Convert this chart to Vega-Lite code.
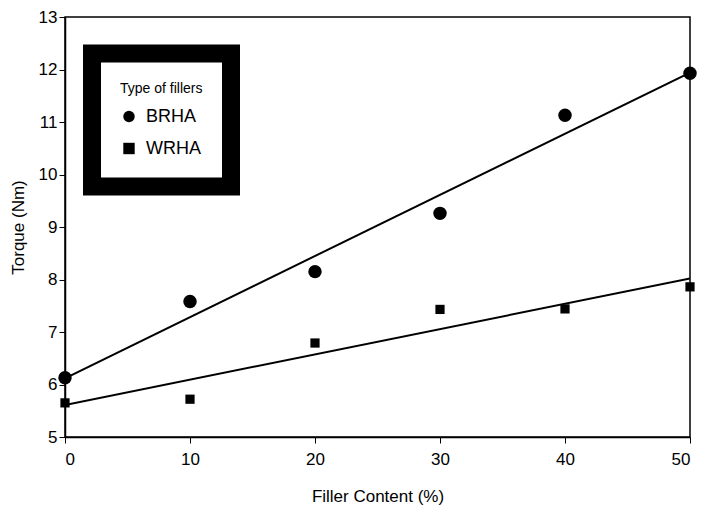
{
  "$schema": "https://vega.github.io/schema/vega-lite/v6.json",
  "width": 625,
  "height": 420,
  "autosize": {"type": "none"},
  "padding": {"left": 65, "top": 17, "right": 13, "bottom": 75},
  "background": "white",
  "config": {
    "font": "Liberation Sans",
    "view": {"stroke": "black", "strokeWidth": 1.5},
    "legend": {"strokeWidth": 18},
    "axis": {
      "domainColor": "black",
      "domainWidth": 1.5,
      "tickColor": "black",
      "tickWidth": 1,
      "grid": false,
      "labelColor": "black",
      "titleColor": "black",
      "labelFontSize": 17,
      "titleFontSize": 17,
      "titleFontWeight": "normal",
      "labelFont": "Liberation Sans",
      "titleFont": "Liberation Sans"
    }
  },
  "data": {
    "values": [
      {"filler": 0, "torque": 6.13, "type": "BRHA"},
      {"filler": 10, "torque": 7.58, "type": "BRHA"},
      {"filler": 20, "torque": 8.15, "type": "BRHA"},
      {"filler": 30, "torque": 9.26, "type": "BRHA"},
      {"filler": 40, "torque": 11.13, "type": "BRHA"},
      {"filler": 50, "torque": 11.93, "type": "BRHA"},
      {"filler": 0, "torque": 5.65, "type": "WRHA"},
      {"filler": 10, "torque": 5.72, "type": "WRHA"},
      {"filler": 20, "torque": 6.79, "type": "WRHA"},
      {"filler": 30, "torque": 7.43, "type": "WRHA"},
      {"filler": 40, "torque": 7.44, "type": "WRHA"},
      {"filler": 50, "torque": 7.86, "type": "WRHA"}
    ]
  },
  "encoding": {
    "x": {
      "field": "filler",
      "type": "quantitative",
      "scale": {"domain": [0, 50], "nice": false},
      "axis": {
        "title": "Filler Content (%)",
        "values": [0, 10, 20, 30, 40, 50],
        "tickSize": 6,
        "labelPadding": 8,
        "titlePadding": 21
      }
    },
    "y": {
      "field": "torque",
      "type": "quantitative",
      "scale": {"domain": [5, 13], "nice": false, "zero": false},
      "axis": {
        "title": "Torque (Nm)",
        "values": [5, 6, 7, 8, 9, 10, 11, 12, 13],
        "tickSize": 6,
        "labelPadding": 2,
        "titlePadding": 11
      }
    }
  },
  "layer": [
    {
      "transform": [
        {"regression": "torque", "on": "filler", "groupby": ["type"], "method": "linear", "extent": [0, 50]}
      ],
      "mark": {"type": "line", "color": "black", "strokeWidth": 2, "clip": true},
      "encoding": {
        "detail": {"field": "type"}
      }
    },
    {
      "mark": {"type": "point", "filled": true, "color": "black", "opacity": 1},
      "encoding": {
        "size": {"condition": {"test": "datum.type === 'BRHA'", "value": 180}, "value": 85},
        "shape": {"field": "type", "type": "nominal", "scale": {"domain": ["BRHA", "WRHA"], "range": ["circle", "square"]},
          "legend": {
            "title": "Type of fillers",
            "orient": "none",
            "legendX": 27,
            "legendY": 36.5,
            "padding": 28,
            "strokeColor": "black",
            "fillColor": "white",
            "titleFontSize": 14,
            "titleFontWeight": "normal",
            "titleColor": "black",
            "titlePadding": 12,
            "labelFontSize": 18,
            "labelColor": "black",
            "labelOffset": 8,
            "rowPadding": 12,
            "symbolSize": 130,
            "symbolFillColor": "black",
            "symbolStrokeColor": "black",
            "symbolStrokeWidth": 2
          }
        }
      }
    }
  ]
}
